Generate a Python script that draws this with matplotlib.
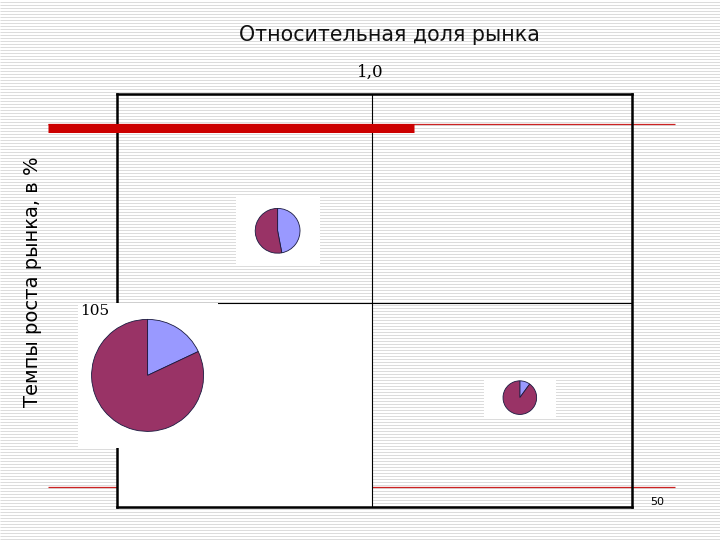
import matplotlib.pyplot as plt
from matplotlib.lines import Line2D
from matplotlib.patches import Rectangle
import numpy as np

# BCG matrix data
products = ['A', 'B', 'C']
rel_share = [0.12, 0.63, 1.58]      # relative market share (x)
growth = [85.5, 124.5, 79.5]        # market growth, % (y)
sales = [100, 16, 9]                # pie size ~ sqrt(sales)
part_blue = [18, 47, 10]            # first segment of each pie, %
part_red = [82, 53, 90]

title = 'Относительная доля рынка'
ylabel = 'Темпы роста рынка, в %'
x_mid_label = '1,0'
y_mid_label = '105'
y_low_label = '50'

W, H = 720, 540
fig = plt.figure(figsize=(W / 100, H / 100), dpi=100)

# slide background with thin horizontal stripes (pixel coords)
bg = fig.add_axes([0, 0, 1, 1], zorder=-1)
bg.set_xlim(0, W)
bg.set_ylim(H, 0)
bg.axis('off')
bg.hlines(np.arange(1.5, H, 3), 0, W, color='#dcdcdc', lw=0.72)
bg.hlines([123.5, 486.5], 48, 675, color='#cc2222', lw=0.9)

bg.text(389, 35, title, ha='center', va='center', fontsize=14.8,
        family='DejaVu Sans', color='#111111')
bg.text(370, 72, x_mid_label, ha='center', va='center', fontsize=12,
        family='DejaVu Serif')
bg.text(33, 282, ylabel, ha='center', va='center', rotation=90,
        fontsize=14, family='DejaVu Sans')
bg.text(657, 502, y_low_label, ha='center', va='center', fontsize=8,
        family='DejaVu Sans')

# matrix frame
ax = fig.add_axes([117 / W, 1 - 507 / H, 515 / W, 413 / H], zorder=1)
ax.patch.set_visible(False)
ax.set_xlim(0, 2.02)
ax.set_ylim(50, 161.4)
ax.set_xticks([])
ax.set_yticks([])
for s in ax.spines.values():
    s.set_linewidth(1.8)
ax.add_patch(Rectangle((0, 50), 1, 55, facecolor='white', edgecolor='none', zorder=0))
ax.axvline(1.0, color='black', lw=0.8)
ax.axhline(105, color='black', lw=0.8)
ax.add_line(Line2D([48, 414], [127.5, 127.5], color='#cc0000', lw=6.5,
                   solid_capstyle='butt', transform=bg.transData,
                   clip_on=False, zorder=5))

# pies placed at their data position
boxes = [(140, 145), (84, 70), (72, 40)]
k = 5.6
for i in range(len(products)):
    cx, cy = ax.transData.transform((rel_share[i], growth[i]))
    bw, bh = boxes[i]
    pax = fig.add_axes([(cx - bw / 2) / W, (cy - bh / 2) / H, bw / W, bh / H], zorder=2)
    r = k * np.sqrt(sales[i])
    pax.pie([part_blue[i], part_red[i]], colors=['#9999ff', '#993366'],
            startangle=90, counterclock=False, radius=r,
            wedgeprops=dict(edgecolor='#1a1a40', linewidth=0.6))
    pax.set_xlim(-bw / 2, bw / 2)
    pax.set_ylim(-bh / 2, bh / 2)
    pax.set_aspect('equal')
    pax.set_frame_on(True)
    pax.set_facecolor('white')
    for s in pax.spines.values():
        s.set_visible(False)
    if i == 0:
        pax.text(-bw / 2 + 3, bh / 2 - 8, y_mid_label, ha='left', va='center',
                 fontsize=11, family='DejaVu Serif')

fig.savefig('out.png', dpi=100)
